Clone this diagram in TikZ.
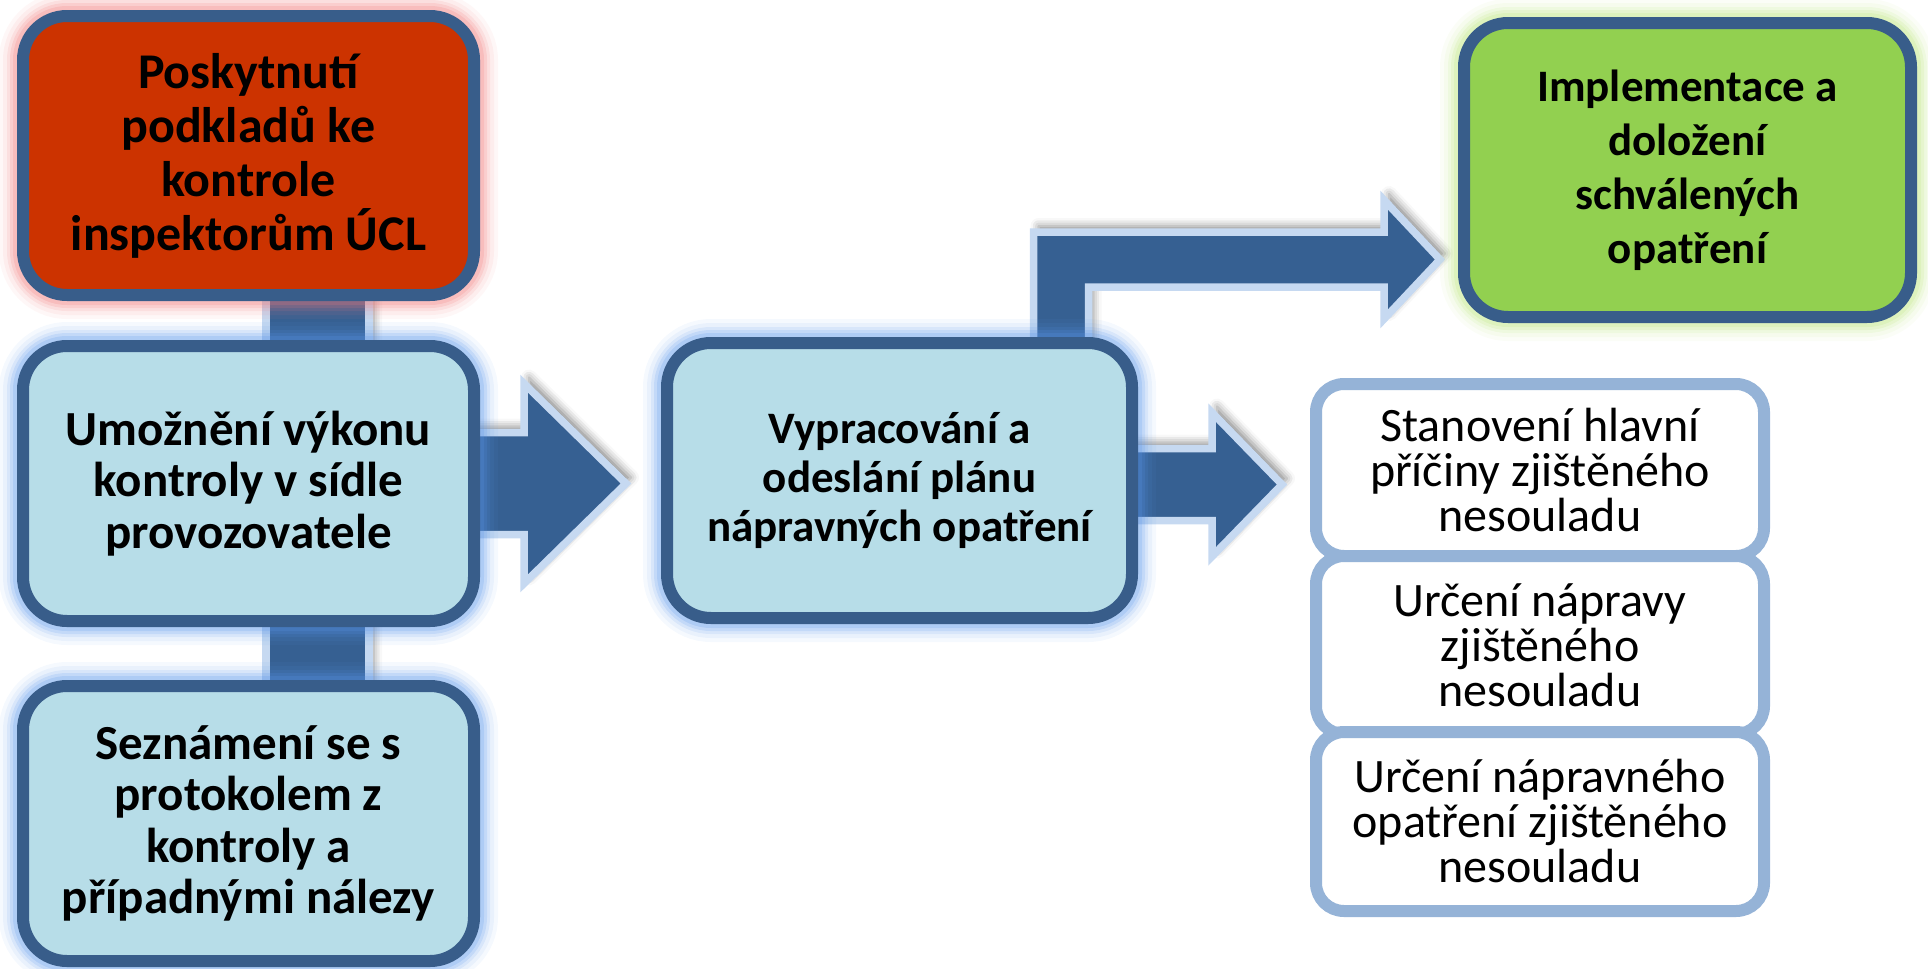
\documentclass[tikz,border=0pt]{standalone}
\usepackage{fontspec}
\setmainfont{Carlito}
\usetikzlibrary{calc, backgrounds, shadows.blur}

\definecolor{frameblue}{RGB}{56,93,138}
\definecolor{paleblue}{RGB}{183,221,232}
\definecolor{brickred}{RGB}{204,51,0}
\definecolor{leafgreen}{RGB}{146,208,80}
\definecolor{arrowblue}{RGB}{54,96,146}
\definecolor{arrowedge}{RGB}{198,217,241}
\definecolor{detailframe}{RGB}{149,179,215}
\definecolor{pinkglow}{RGB}{240,120,120}
\definecolor{blueglow}{RGB}{90,150,235}
\definecolor{greenglow}{RGB}{185,228,120}

\begin{document}
\begin{tikzpicture}[x = 0.5pt, y = -0.5pt,
	glow/.style = {
		preaction = {draw = #1, draw opacity = .06, line width = 24pt, fill = none},
		preaction = {draw = #1, draw opacity = .08, line width = 20pt, fill = none},
		preaction = {draw = #1, draw opacity = .12, line width = 16pt, fill = none},
		preaction = {draw = #1, draw opacity = .16, line width = 13pt, fill = none},
		preaction = {draw = #1, draw opacity = .2, line width = 10pt, fill = none}},
	stage/.style = {draw = frameblue, line width = 6pt, rounded corners = 22pt,
		align = center, inner sep = 0pt, minimum width = 225.5pt, minimum height = 137.5pt,
		font = \fontsize{24.5}{25.75}\selectfont\bfseries},
	detail/.style = {draw = detailframe, fill = white, line width = 6pt, rounded corners = 14pt,
		align = center, inner sep = 0pt, minimum width = 224pt,
		font = \fontsize{24}{22.5}\selectfont},
	fat arrow/.style = {fill = arrowblue, draw = arrowedge, line width = 3.75pt,
		blur shadow = {shadow xshift = 2.5pt, shadow yshift = 3pt, shadow blur radius = 4pt, shadow opacity = 45}},
	link bar/.style = {fat arrow}]

\useasboundingbox (0, 0) rectangle (1928, 969);

% Left column

\node [stage, fill = brickred, glow = pinkglow, minimum height = 139.5pt, font = \fontsize{25}{27}\selectfont\bfseries]
	(podklady) at (248.5, 155.5) {Poskytnutí\\podkladů ke\\kontrole\\inspektorům ÚCL};
\node [stage, fill = paleblue, glow = blueglow] (umozneni) at (248.5, 483.5)
	{Umožnění výkonu\\kontroly v sídle\\provozovatele};
\node [stage, fill = paleblue, glow = blueglow] (seznameni) at (248.5, 823.5)
	{Seznámení se s\\protokolem z\\kontroly a\\případnými nálezy};

% Plan

\node [stage, fill = paleblue, glow = blueglow, minimum width = 232.5pt, font = \fontsize{22.5}{24.5}\selectfont\bfseries]
	(vypracovani) at (899.5, 480.5) {Vypracování a\\odeslání plánu\\nápravných opatření};

% Implementation

\node [stage, fill = leafgreen, glow = greenglow, minimum width = 223.5pt, minimum height = 147pt,
	font = \fontsize{22.5}{27}\selectfont\bfseries]
	(implementace) at (1687.5, 170) {Implementace a\\doložení\\schválených\\opatření};

% Findings

\node [detail, minimum height = 86pt] (stanoveni) at (1540, 470)
	{Stanovení hlavní\\příčiny zjištěného\\nesouladu};
\node [detail, minimum height = 89pt] (urceni) at (1540, 645)
	{Určení nápravy\\zjištěného\\nesouladu};
\node [detail, minimum height = 89.5pt] (opatreni) at (1540, 821.5)
	{Určení nápravného\\opatření zjištěného\\nesouladu};

\begin{scope}[on background layer]

	% Bars between the left boxes

	\filldraw [link bar] ($(podklady.south) + (17.5, -10)$) rectangle ($(umozneni.north) + (120.5, 10)$);
	\filldraw [link bar] ($(umozneni.south) + (17.5, -10)$) rectangle ($(seznameni.north) + (120.5, 10)$);

	% Arrow to the plan

	\filldraw [fat arrow] ($(umozneni.east) + (-10, -51)$) -- ++(54, 0) -- ++(0, -49)
		-- ($(umozneni.east -| vypracovani.west) + (-35, 0)$)
		-- ($(umozneni.east) + (44, 100)$) -- ++(0, -49) -- ++(-54, 0) -- cycle;

	% Arrow to the findings

	\filldraw [fat arrow] ($(vypracovani.east) + (-10, -32)$) -- ++(84, 0) -- ++(0, -36)
		-- ($(vypracovani.east -| stanoveni.west) + (-28, 4)$)
		-- ($(vypracovani.east) + (74, 76)$) -- ++(0, -36) -- ++(-84, 0) -- cycle;

	% Arrow to the implementation

	\filldraw [fat arrow] ($(vypracovani.north east) + (-104.5, 23)$) -- ++(0, -128) -- ++(350.5, 0) -- ++(0, -32)
		-- ($(implementace.south west) + (-18, -63.5)$)
		-- ++(-56, 59.5) -- ++(0, -32) -- ++(-295.5, 0) -- ++(0, 73) -- cycle;

\end{scope}
\end{tikzpicture}
\end{document}
